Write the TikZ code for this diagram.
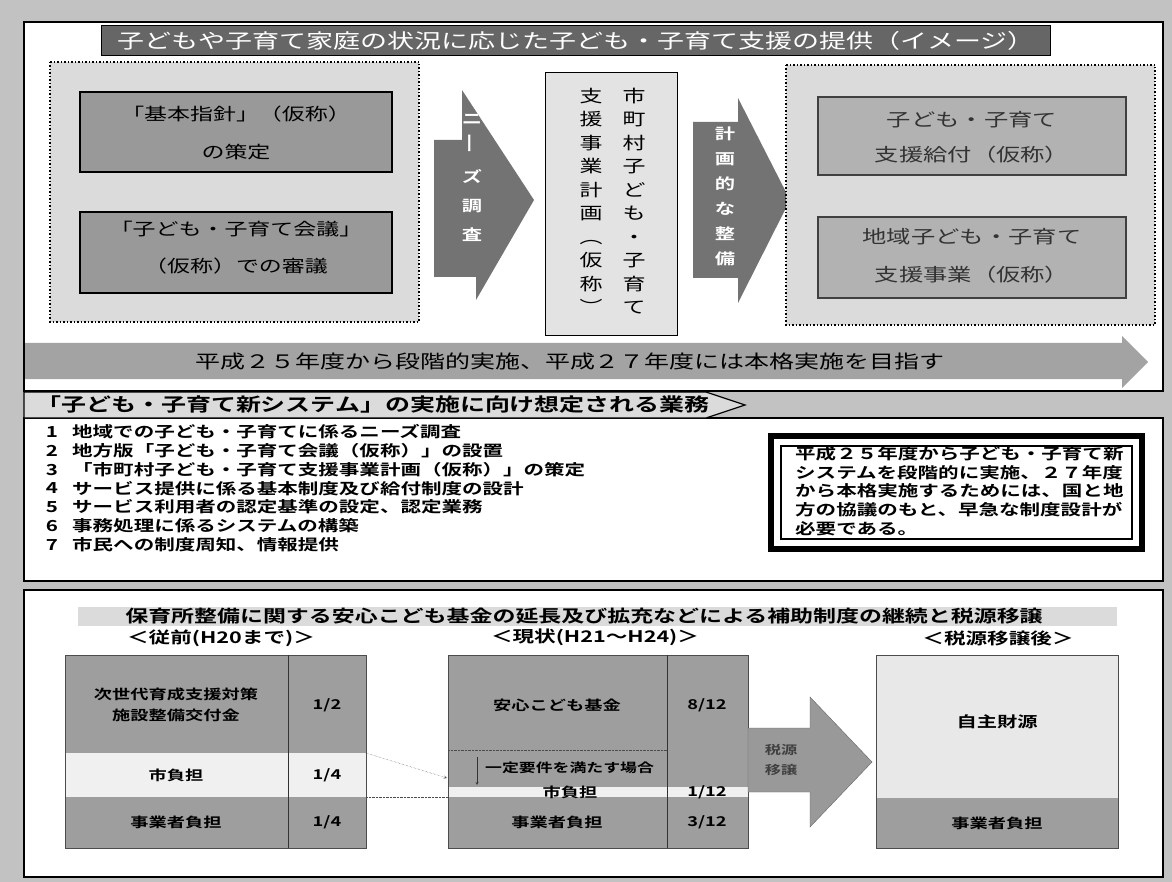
\documentclass[tikz,border=0pt]{standalone}
\usepackage{fontspec}
\setmainfont{Noto Sans CJK JP}[FakeStretch=1.35,BoldFont={Noto Sans CJK JP Bold}]
\definecolor{backgray}{gray}{0.76}
\definecolor{bargray}{gray}{0.40}
\definecolor{dotfill}{gray}{0.86}
\definecolor{boxfill}{gray}{0.60}
\definecolor{arrowfill}{gray}{0.45}
\definecolor{innerfill}{gray}{0.70}
\definecolor{bandfill}{gray}{0.64}
\definecolor{cellfill}{gray}{0.62}
\definecolor{rowfill}{gray}{0.94}
\newcommand{\jfs}[2]{\fontsize{#1}{#2}\selectfont}

\begin{document}
\begin{tikzpicture}[x=1pt,y=-1pt,
	panel/.style={draw=black,line width=1.6pt,fill=white},
	dotbox/.style={draw=black,line width=1.5pt,dotted,fill=dotfill},
	jtext/.style={inner sep=0pt,align=center},
	vtext/.style={jtext,font=\jfs{17}{23.5}},
	item/.style={inner sep=0pt,anchor=west,font=\bfseries\jfs{15.2}{19}},
	cell/.style={jtext,font=\bfseries\jfs{13.5}{21}},
	sublabel/.style={jtext,font=\bfseries\jfs{16}{20}}]

	\useasboundingbox (0,0) rectangle (1172,882);
	%background and panels
	\fill[backgray] (0,0) rectangle (1172,882);
	\draw[panel] (24,22) rectangle (1163,391);
	\draw[panel] (24,418) rectangle (1163,581);
	\draw[panel] (24,590) rectangle (1163,877);

	%title
	\draw[fill=bargray,line width=1pt] (101,26) rectangle (1050,56);
	\node[jtext,text=white,font=\jfs{20}{24}] (title) at (576,41) {子どもや子育て家庭の状況に応じた子ども・子育て支援の提供（イメージ）};

	%left: guideline and council
	\draw[dotbox] (50,62) rectangle (419,322);
	\draw[fill=boxfill,line width=2.5pt] (80,92) rectangle (392,172);
	\draw[fill=boxfill,line width=2.5pt] (80,212) rectangle (392,293);
	\node[jtext,font=\jfs{17}{38}] (shishin) at (236,133) {「基本指針」（仮称）\\の策定};
	\node[jtext,font=\jfs{17}{37}] (kaigi) at (236,248) {「子ども・子育て会議」\\（仮称）での審議};

	%needs survey arrow
	\fill[arrowfill] (434,140) -- (462,140) -- (462,90) -- (534,200) -- (476,300) -- (476,277) -- (434,277) -- cycle;
	\node[jtext,text=white,font=\bfseries\jfs{15}{29}] (needs) at (472,178) {ニ\\\rotatebox{90}{ー}\\ズ\\調\\査};

	%municipal plan (vertical)
	\draw[fill=gray!22,line width=0.8pt] (545,72) rectangle (677,335);
	\node[vtext] (plan1) at (634,201) {市\\町\\村\\子\\ど\\も\\・\\子\\育\\て};
	\node[vtext] (plan2) at (591,201) {支\\援\\事\\業\\計\\画\\︵\\仮\\称\\︶};

	%planned provision arrow
	\fill[arrowfill] (693,122) -- (738,122) -- (738,98) -- (790,200) -- (738,303) -- (738,278) -- (693,278) -- cycle;
	\node[jtext,text=white,font=\bfseries\jfs{15}{25}] (seibi) at (725,196) {計\\画\\的\\な\\整\\備};

	%right: benefits and projects
	\draw[dotbox] (786,65) rectangle (1155,325);
	\draw[fill=innerfill,draw=black!75,line width=2pt] (818,97) rectangle (1126,175);
	\draw[fill=innerfill,draw=black!75,line width=2pt] (818,217) rectangle (1126,298);
	\node[jtext,text=black!80,font=\jfs{18}{35}] (kyufu) at (972,137) {子ども・子育て\\支援給付（仮称）};
	\node[jtext,text=black!80,font=\jfs{18}{38}] (jigyo) at (972,256) {地域子ども・子育て\\支援事業（仮称）};

	%schedule arrow
	\fill[bandfill] (25,343) -- (1122,343) -- (1122,336) -- (1148,362) -- (1122,388) -- (1122,379) -- (25,379) -- cycle;
	\node[jtext,font=\jfs{18.5}{22}] (schedule) at (570,361) {平成２５年度から段階的実施、平成２７年度には本格実施を目指す};

	%tasks tab
	\draw[fill=dotfill,line width=1.2pt] (24,392) -- (706,392) -- (745,405) -- (706,418) -- (24,418) -- cycle;
	\node[inner sep=0pt,anchor=west,font=\bfseries\jfs{18.5}{22}] (tasks) at (36,405) {「子ども・子育て新システム」の実施に向け想定される業務};

	%task list
	\foreach \n/\task in {1/地域での子ども・子育てに係るニーズ調査,
		2/地方版「子ども・子育て会議（仮称）」の設置,
		3/「市町村子ども・子育て支援事業計画（仮称）」の策定,
		4/サービス提供に係る基本制度及び給付制度の設計,
		5/サービス利用者の認定基準の設定、認定業務,
		6/事務処理に係るシステムの構築,
		7/市民への制度周知、情報提供}
	{
		\node[inner sep=0pt,font=\bfseries\jfs{15.2}{19}] (num\n) at (52,{432+18.8*(\n-1)}) {\n};
		\node[item] (task\n) at (72,{432+18.8*(\n-1)}) {\task};
	}

	%note box
	\draw[line width=6pt] (771,436) rectangle (1142,549);
	\draw[line width=1.2pt] (781,446) rectangle (1132,539);
	\node[inner sep=0pt,anchor=west,align=left,font=\bfseries\jfs{15.2}{18.8}] (note) at (795,491) {平成２５年度から子ども・子育て新\\システムを段階的に実施、２７年度\\から本格実施するためには、国と地\\方の協議のもと、早急な制度設計が\\必要である。};

	%bottom title and labels
	\fill[dotfill] (78,607) rectangle (1117,626);
	\node[jtext,font=\bfseries\jfs{17}{20}] (fund) at (584,616) {保育所整備に関する安心こども基金の延長及び拡充などによる補助制度の継続と税源移譲};
	\node[sublabel] (before) at (221,638) {＜従前(H20まで)＞};
	\node[sublabel] (now) at (595,637) {＜現状(H21～H24)＞};
	\node[sublabel] (after) at (998,638) {＜税源移譲後＞};

	%table before
	\fill[cellfill] (65,655) rectangle (366,753);
	\fill[rowfill] (65,753) rectangle (366,797);
	\fill[cellfill] (65,797) rectangle (366,848);
	\draw[black!70,line width=0.8pt] (65,655) rectangle (366,848);
	\draw[black!80,line width=0.8pt] (288,655) -- (288,848);
	\node[cell] (subsidy) at (176,705) {次世代育成支援対策\\施設整備交付金};
	\node[cell] (subsidyr) at (327,705) {1/2};
	\node[cell] (city) at (176,775) {市負担};
	\node[cell] (cityr) at (327,775) {1/4};
	\node[cell] (owner) at (176,822) {事業者負担};
	\node[cell] (ownerr) at (327,822) {1/4};

	%table now
	\fill[cellfill] (448,655) rectangle (748,787);
	\fill[rowfill] (448,787) rectangle (748,797);
	\fill[cellfill] (448,797) rectangle (748,848);
	\draw[black!70,line width=0.8pt] (448,655) rectangle (748,848);
	\draw[black!80,line width=0.8pt] (667,655) -- (667,848);
	\draw[black!70,densely dotted] (448,750) -- (667,750);
	\node[cell] (kikin) at (557,705) {安心こども基金};
	\node[cell] (kikinr) at (707,705) {8/12};
	\node[inner sep=0pt,anchor=west,font=\bfseries\jfs{12.5}{15}] (yoken) at (485,768) {一定要件を満たす場合};
	\coordinate (yokentop) at (477,757);
	\coordinate (yokenbot) at (477,785);
	\draw[-stealth,black!80] (yokentop) -- (yokenbot);
	\node[cell] (city2) at (570,792) {市負担};
	\node[cell] (city2r) at (707,792) {1/12};
	\node[cell] (owner2) at (557,822) {事業者負担};
	\node[cell] (owner2r) at (707,822) {3/12};

	%dotted links from old to new
	\coordinate (oldtop) at (366,753);
	\coordinate (newtop) at (447,778);
	\coordinate (oldbot) at (366,797);
	\coordinate (newbot) at (448,797);
	\draw[densely dotted,black!70,-stealth] (oldtop) -- (newtop);
	\draw[densely dotted,black!70] (oldbot) -- (newbot);

	%transfer arrow
	\draw[fill=boxfill,draw=black!60] (748,728) -- (810,728) -- (810,697) -- (872,762) -- (810,827) -- (810,792) -- (748,792) -- cycle;
	\node[jtext,text=black!75,font=\bfseries\jfs{12}{20}] (transfer) at (781,760) {税源\\移譲};

	%table after
	\fill[gray!18] (876,655) rectangle (1118,798);
	\fill[cellfill] (876,798) rectangle (1118,848);
	\draw[black!70,line width=0.8pt] (876,655) rectangle (1118,848);
	\node[cell,font=\bfseries\jfs{15}{18}] (own) at (997,722) {自主財源};
	\node[cell] (owner3) at (997,823) {事業者負担};
\end{tikzpicture}
\end{document}
